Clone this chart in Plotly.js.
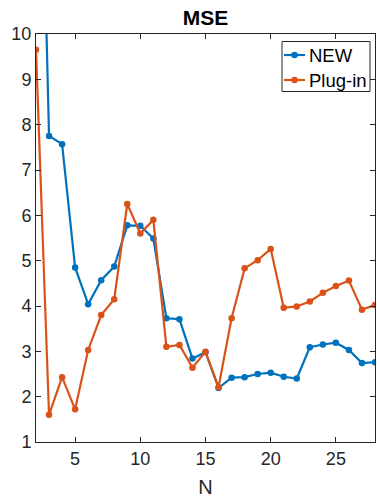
<!DOCTYPE html>
<html>
<head>
<meta charset="utf-8">
<script src="https://cdn.plot.ly/plotly-3.0.1.min.js"></script>
<style>html,body{margin:0;padding:0;background:#fff;}#chart{width:377px;height:501px;}</style>
</head>
<body>
<div id="chart"></div>
<script>
const N = [2,3,4,5,6,7,8,9,10,11,12,13,14,15,16,17,18,19,20,21,22,23,24,25,26,27,28];
const newMSE = [19.5,7.75,7.57,4.85,4.04,4.57,4.87,5.78,5.77,5.49,3.73,3.71,2.84,2.98,2.19,2.42,2.43,2.50,2.53,2.44,2.40,3.09,3.15,3.19,3.03,2.74,2.76];
const plugMSE = [9.65,1.60,2.43,1.72,3.03,3.80,4.15,6.25,5.60,5.90,3.10,3.14,2.64,2.99,2.21,3.73,4.83,5.01,5.26,3.96,3.99,4.10,4.29,4.44,4.56,3.92,4.02];
const seriesNames = ['NEW', 'Plug-in'];
const xTicks = [5,10,15,20,25];
const yTicks = [1,2,3,4,5,6,7,8,9,10];

const FONT = 'Liberation Sans, Arial, Helvetica, sans-serif';
const AX = '#262626';
const COLORS = ['#0072BD', '#D95319'];

const W = 377, H = 501;
const M = {l: 36, r: 2, t: 34, b: 59};
const PW = W - M.l - M.r, PH = H - M.t - M.b;
const px = v => (v - M.l) / PW;          // pixel x -> paper x
const py = v => 1 - (v - M.t) / PH;       // pixel y -> paper y

const traces = [newMSE, plugMSE].map((ys, i) => ({
  x: N, y: ys, name: seriesNames[i], type: 'scatter', mode: 'lines+markers',
  line: {color: COLORS[i], width: 2.2}, marker: {color: COLORS[i], size: 6.5},
  showlegend: false
}));

// compact MATLAB-style legend
const shapes = [{type: 'rect', xref: 'paper', yref: 'paper',
  x0: px(282), x1: px(370), y0: py(91.5), y1: py(41.5),
  line: {color: AX, width: 1}, fillcolor: '#fff', layer: 'above'}];
const annotations = [];
const rowY = [55, 80];
seriesNames.forEach((name, i) => {
  const yy = rowY[i];
  shapes.push({type: 'line', xref: 'paper', yref: 'paper',
    x0: px(284), x1: px(305), y0: py(yy), y1: py(yy),
    line: {color: COLORS[i], width: 2.2}, layer: 'above'});
  shapes.push({type: 'circle', xref: 'paper', yref: 'paper',
    x0: px(294.5 - 3.25), x1: px(294.5 + 3.25), y0: py(yy + 3.25), y1: py(yy - 3.25),
    line: {color: COLORS[i], width: 0}, fillcolor: COLORS[i], layer: 'above'});
  annotations.push({xref: 'paper', yref: 'paper', x: px(306.5), y: py(yy + 0.5),
    xanchor: 'left', yanchor: 'middle', showarrow: false, text: name,
    font: {family: FONT, size: 18.5, color: '#000'}});
});

const layout = {
  width: W, height: H,
  margin: M,
  paper_bgcolor: '#fff', plot_bgcolor: '#fff',
  font: {family: FONT, color: AX, size: 18},
  title: {text: '<b>MSE</b>', font: {family: FONT, size: 21, color: '#000'},
          x: 0.545, xanchor: 'center', y: 0.965, yanchor: 'middle'},
  xaxis: {range: [2, 28], tickvals: xTicks, ticktext: xTicks.map(String),
          ticks: 'inside', ticklen: 5, tickcolor: AX, tickwidth: 1,
          showline: true, linecolor: AX, linewidth: 1, mirror: 'ticks',
          showgrid: false, zeroline: false,
          tickfont: {family: FONT, size: 18, color: AX},
          title: {text: 'N', font: {family: FONT, size: 20, color: AX}, standoff: 12}},
  yaxis: {range: [1, 10], tickvals: yTicks, ticktext: yTicks.map(String),
          ticks: 'inside', ticklen: 5, tickcolor: AX, tickwidth: 1,
          showline: true, linecolor: AX, linewidth: 1, mirror: 'ticks',
          showgrid: false, zeroline: false,
          tickfont: {family: FONT, size: 18, color: AX}},
  showlegend: false,
  shapes: shapes,
  annotations: annotations
};

Plotly.newPlot('chart', traces, layout, {displayModeBar: false, staticPlot: true});
</script>
</body>
</html>
